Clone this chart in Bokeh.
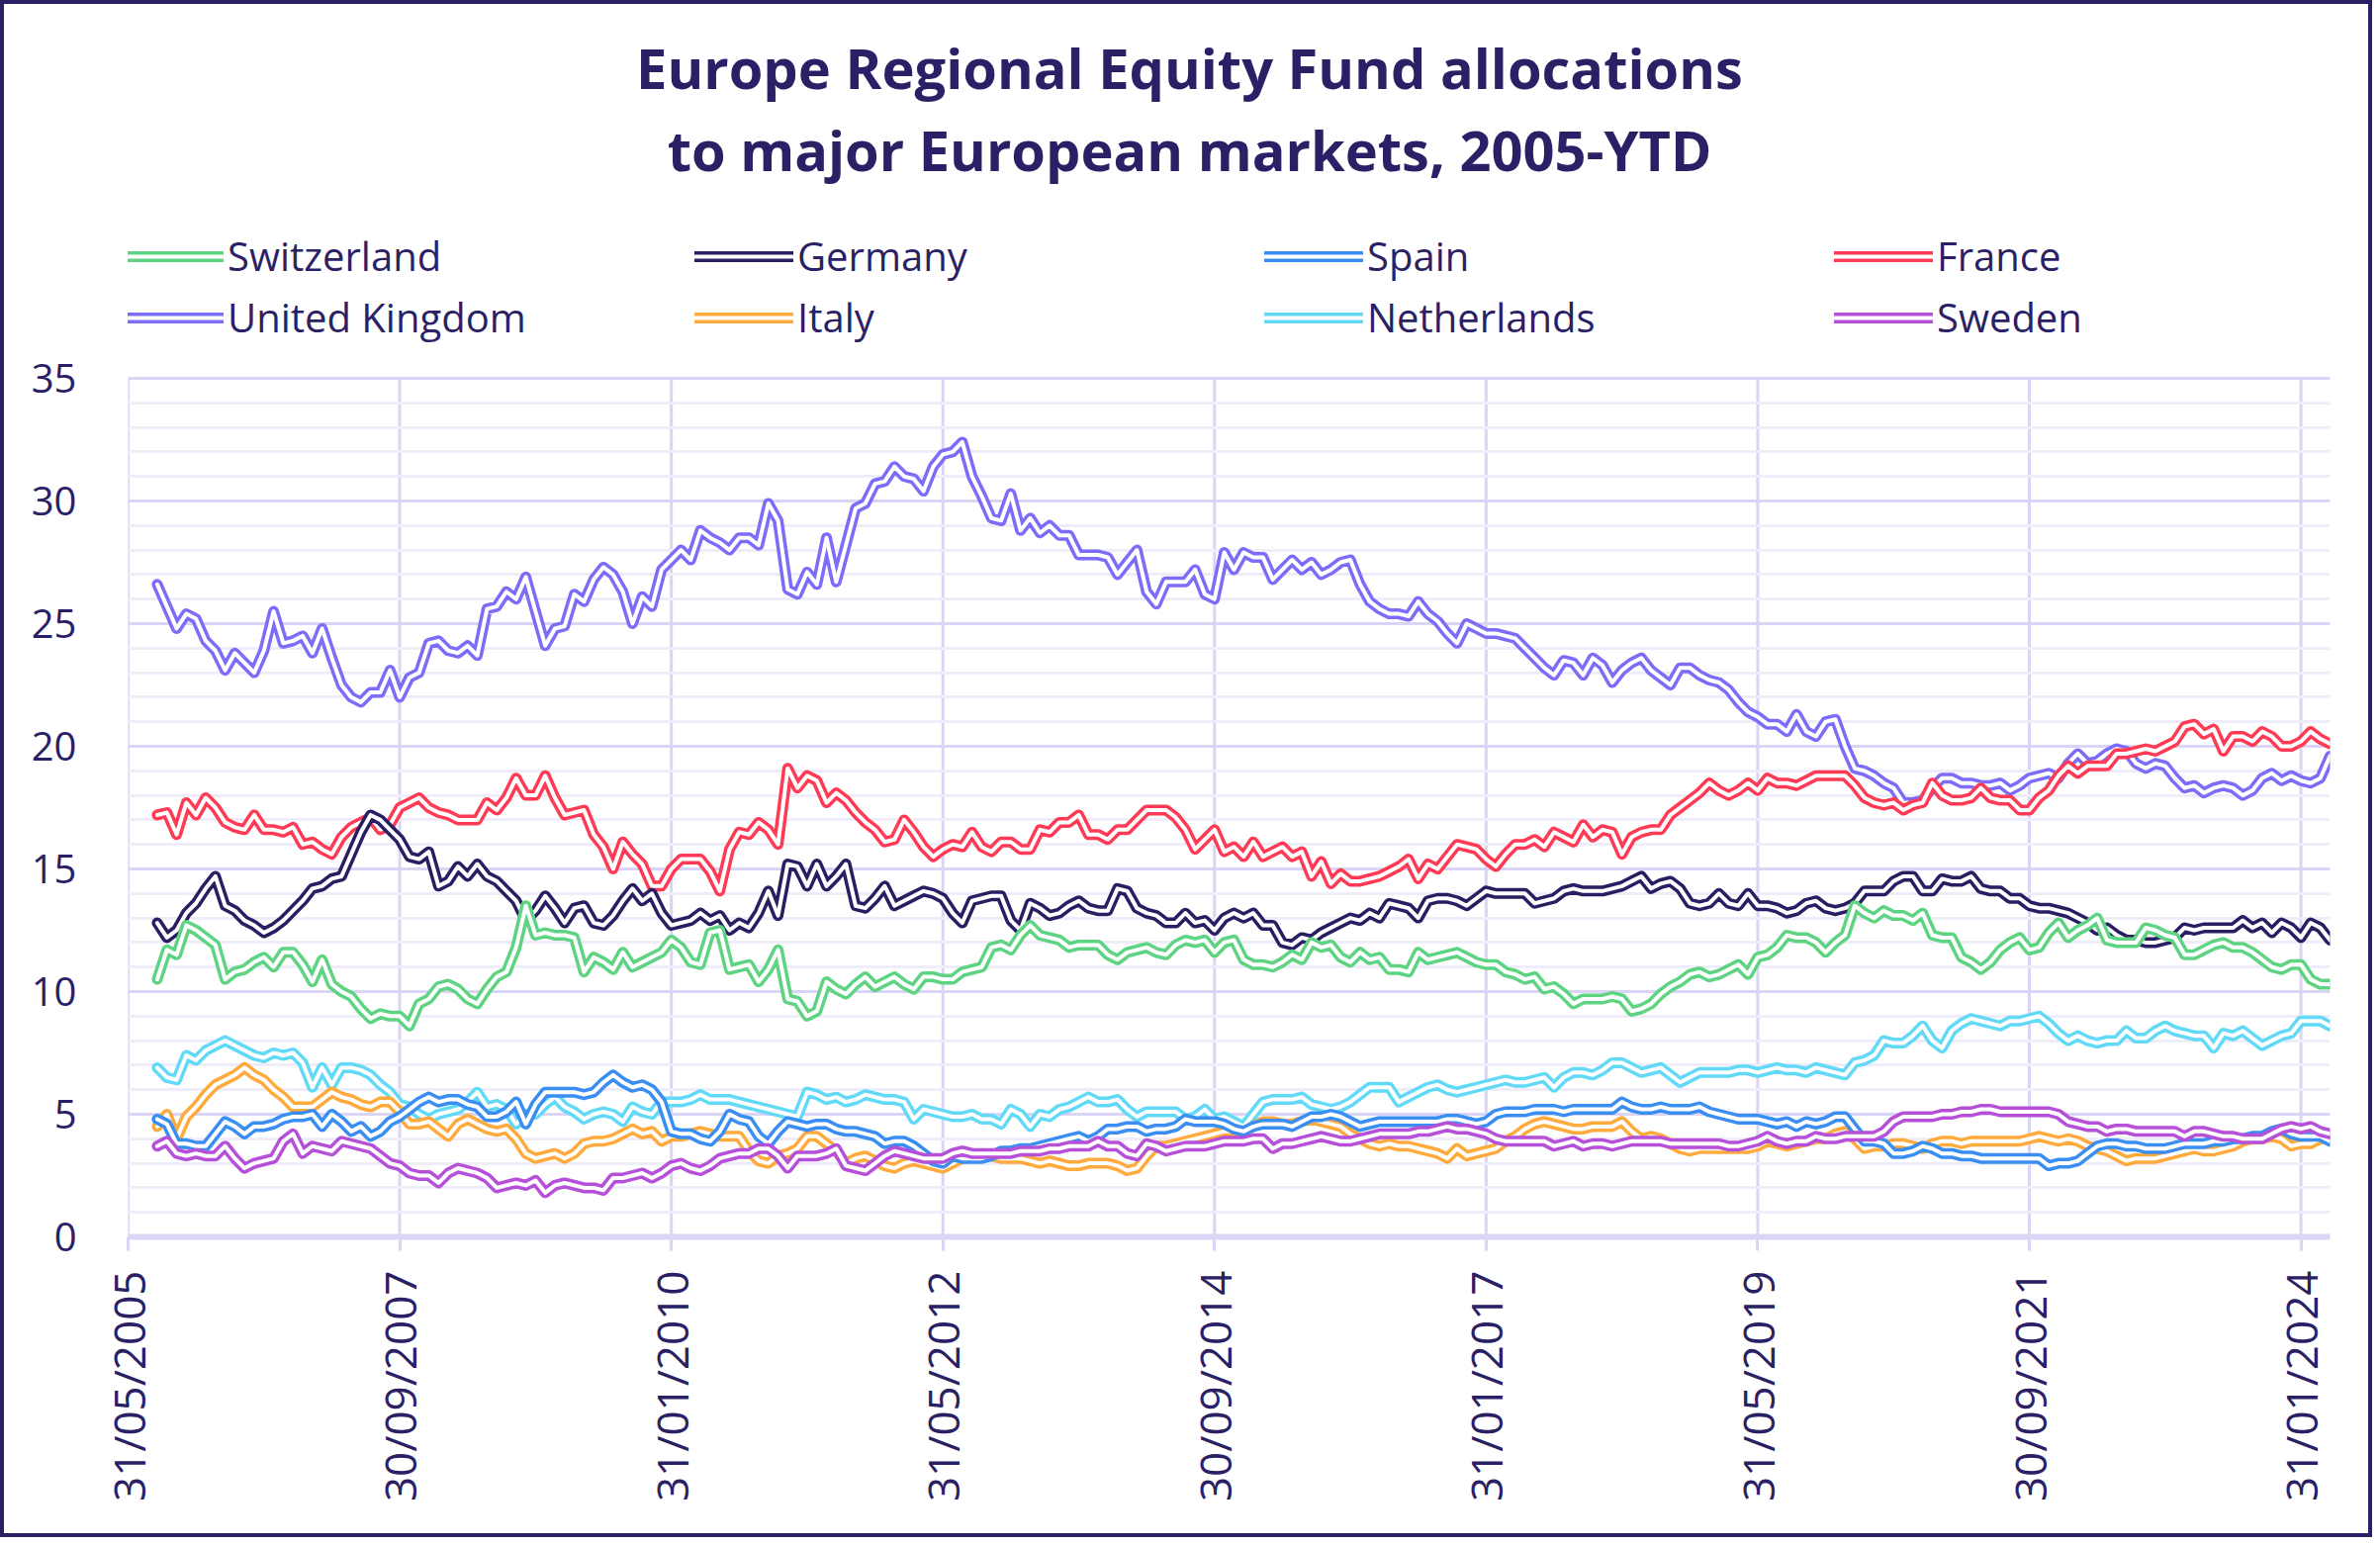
import pandas as pd
from math import pi
from bokeh.plotting import figure
from bokeh.models import Range1d, FixedTicker, Legend, LegendItem, Label
from bokeh.embed import file_html
from bokeh.resources import INLINE

# ---------------- data (monthly, first point 31/08/2005) ----------------
first_date = "2005-08-31"
axis_origin = "2005-05-31"
tick_labels = ["31/05/2005", "30/09/2007", "31/01/2010", "31/05/2012", "30/09/2014",
               "31/01/2017", "31/05/2019", "30/09/2021", "31/01/2024"]
y_ticks = [0, 5, 10, 15, 20, 25, 30, 35]

united_kingdom = [
    26.6, 25.7, 24.8, 25.4, 25.2, 24.3, 23.9, 23.1, 23.8, 23.4,
    23.0, 23.9, 25.5, 24.2, 24.3, 24.5, 23.8, 24.8, 23.6, 22.5,
    22.0, 21.8, 22.2, 22.2, 23.1, 22.0, 22.8, 23.0, 24.2, 24.3,
    23.9, 23.8, 24.1, 23.7, 25.6, 25.7, 26.3, 26.0, 26.9, 25.5,
    24.1, 24.8, 24.9, 26.2, 25.9, 26.8, 27.3, 27.0, 26.3, 25.0,
    26.1, 25.7, 27.2, 27.6, 28.0, 27.6, 28.8, 28.5, 28.3, 28.0,
    28.5, 28.5, 28.2, 29.9, 29.2, 26.4, 26.2, 27.1, 26.6, 28.5,
    26.7, 28.2, 29.7, 29.9, 30.7, 30.8, 31.4, 31.0, 30.9, 30.4,
    31.4, 31.9, 32.0, 32.4, 31.0, 30.2, 29.3, 29.2, 30.3, 28.8,
    29.3, 28.7, 29.0, 28.6, 28.6, 27.8, 27.8, 27.8, 27.7, 27.0,
    27.5, 28.0, 26.3, 25.8, 26.7, 26.7, 26.7, 27.2, 26.2, 26.0,
    27.9, 27.2, 27.9, 27.7, 27.7, 26.8, 27.2, 27.6, 27.2, 27.5,
    27.0, 27.2, 27.5, 27.6, 26.6, 25.9, 25.6, 25.4, 25.4, 25.3,
    25.9, 25.4, 25.1, 24.6, 24.2, 25.0, 24.8, 24.6, 24.6, 24.5,
    24.4, 24.0, 23.6, 23.2, 22.9, 23.5, 23.4, 22.9, 23.6, 23.3,
    22.6, 23.1, 23.4, 23.6, 23.1, 22.8, 22.5, 23.2, 23.2, 22.9,
    22.7, 22.6, 22.3, 21.8, 21.4, 21.2, 20.9, 20.9, 20.6, 21.3,
    20.6, 20.4, 21.0, 21.1, 20.0, 19.1, 19.0, 18.8, 18.5, 18.3,
    17.7, 17.7, 17.8, 18.3, 18.7, 18.7, 18.5, 18.5, 18.4, 18.4,
    18.5, 18.2, 18.4, 18.7, 18.8, 18.9, 18.7, 19.3, 19.7, 19.3,
    19.4, 19.7, 19.9, 19.8, 19.3, 19.1, 19.3, 19.2, 18.7, 18.3,
    18.4, 18.1, 18.3, 18.4, 18.3, 18.0, 18.2, 18.7, 18.9, 18.6,
    18.8, 18.6, 18.5, 18.7, 19.6]

france = [
    17.2, 17.3, 16.4, 17.7, 17.2, 17.9, 17.5, 16.9, 16.7, 16.6,
    17.2, 16.6, 16.6, 16.5, 16.7, 16.0, 16.1, 15.8, 15.6, 16.3,
    16.7, 16.9, 17.1, 16.6, 16.8, 17.5, 17.7, 17.9, 17.5, 17.3,
    17.2, 17.0, 17.0, 17.0, 17.7, 17.4, 17.9, 18.7, 18.0, 18.0,
    18.8, 17.9, 17.2, 17.3, 17.4, 16.4, 15.9, 15.0, 16.1, 15.6,
    15.2, 14.3, 14.3, 15.0, 15.4, 15.4, 15.4, 14.9, 14.1, 15.8,
    16.5, 16.4, 16.9, 16.6, 16.0, 19.1, 18.3, 18.8, 18.6, 17.7,
    18.1, 17.8, 17.3, 16.9, 16.6, 16.1, 16.2, 17.0, 16.5, 15.9,
    15.5, 15.8, 16.0, 15.9, 16.5, 15.9, 15.7, 16.1, 16.1, 15.8,
    15.8, 16.6, 16.5, 16.9, 16.9, 17.2, 16.4, 16.4, 16.2, 16.6,
    16.6, 17.0, 17.4, 17.4, 17.4, 17.1, 16.6, 15.8, 16.2, 16.6,
    15.7, 15.9, 15.5, 16.1, 15.5, 15.7, 15.9, 15.5, 15.7, 14.7,
    15.3, 14.4, 14.8, 14.5, 14.5, 14.6, 14.7, 14.9, 15.1, 15.4,
    14.6, 15.2, 15.0, 15.5, 16.0, 15.9, 15.8, 15.4, 15.1, 15.6,
    16.0, 16.0, 16.2, 15.9, 16.5, 16.3, 16.1, 16.8, 16.3, 16.6,
    16.5, 15.6, 16.3, 16.5, 16.6, 16.6, 17.2, 17.5, 17.8, 18.1,
    18.5, 18.2, 18.0, 18.2, 18.5, 18.2, 18.7, 18.5, 18.5, 18.4,
    18.6, 18.8, 18.8, 18.8, 18.8, 18.4, 17.9, 17.7, 17.6, 17.7,
    17.4, 17.6, 17.7, 18.5, 18.0, 17.8, 17.8, 17.9, 18.3, 17.9,
    17.8, 17.8, 17.4, 17.4, 17.9, 18.2, 18.8, 19.2, 18.9, 19.2,
    19.2, 19.2, 19.7, 19.7, 19.8, 19.9, 19.8, 20.0, 20.2, 20.8,
    20.9, 20.5, 20.7, 19.8, 20.4, 20.4, 20.2, 20.6, 20.4, 20.0,
    20.0, 20.2, 20.6, 20.3, 20.1]

germany = [
    12.8, 12.2, 12.5, 13.2, 13.6, 14.2, 14.7, 13.5, 13.3, 12.9,
    12.7, 12.4, 12.6, 12.9, 13.3, 13.7, 14.2, 14.3, 14.6, 14.7,
    15.6, 16.5, 17.2, 17.0, 16.6, 16.2, 15.5, 15.4, 15.7, 14.3,
    14.5, 15.1, 14.7, 15.2, 14.7, 14.5, 14.1, 13.7, 12.9, 13.3,
    13.9, 13.4, 12.8, 13.4, 13.5, 12.8, 12.7, 13.1, 13.7, 14.2,
    13.7, 14.0, 13.2, 12.7, 12.8, 12.9, 13.2, 12.9, 13.1, 12.5,
    12.8, 12.6, 13.2, 14.1, 13.1, 15.2, 15.1, 14.3, 15.2, 14.3,
    14.7, 15.2, 13.5, 13.4, 13.8, 14.3, 13.5, 13.7, 13.9, 14.1,
    14.0, 13.8, 13.2, 12.8, 13.7, 13.8, 13.9, 13.9, 12.9, 12.5,
    13.6, 13.4, 13.1, 13.2, 13.5, 13.7, 13.4, 13.3, 13.3, 14.2,
    14.1, 13.4, 13.2, 13.1, 12.8, 12.8, 13.2, 12.8, 12.9, 12.5,
    13.0, 13.2, 13.0, 13.2, 12.7, 12.7, 12.0, 11.9, 12.2, 12.1,
    12.4, 12.6, 12.8, 13.0, 12.9, 13.2, 13.0, 13.6, 13.5, 13.4,
    13.0, 13.7, 13.8, 13.8, 13.7, 13.5, 13.8, 14.1, 14.0, 14.0,
    14.0, 14.0, 13.6, 13.7, 13.8, 14.1, 14.2, 14.1, 14.1, 14.1,
    14.2, 14.3, 14.5, 14.7, 14.2, 14.4, 14.5, 14.2, 13.6, 13.5,
    13.6, 14.0, 13.6, 13.5, 14.0, 13.5, 13.5, 13.4, 13.2, 13.3,
    13.6, 13.7, 13.4, 13.3, 13.4, 13.6, 14.1, 14.1, 14.1, 14.5,
    14.7, 14.7, 14.1, 14.1, 14.6, 14.5, 14.5, 14.7, 14.2, 14.1,
    14.1, 13.8, 13.8, 13.5, 13.4, 13.4, 13.3, 13.2, 13.0, 12.8,
    12.5, 12.6, 12.3, 12.1, 12.1, 12.0, 12.0, 12.1, 12.2, 12.6,
    12.5, 12.6, 12.6, 12.6, 12.6, 12.9, 12.6, 12.8, 12.4, 12.8,
    12.6, 12.2, 12.8, 12.6, 12.1]

switzerland = [
    10.5, 11.7, 11.5, 12.7, 12.5, 12.2, 11.9, 10.5, 10.8, 10.9,
    11.2, 11.4, 11.0, 11.6, 11.6, 11.1, 10.4, 11.3, 10.3, 10.0,
    9.8, 9.3, 8.9, 9.1, 9.0, 9.0, 8.6, 9.5, 9.7, 10.2,
    10.3, 10.1, 9.7, 9.5, 10.1, 10.6, 10.8, 11.8, 13.5, 12.3,
    12.4, 12.3, 12.3, 12.2, 10.8, 11.4, 11.2, 10.9, 11.6, 11.0,
    11.2, 11.4, 11.6, 12.1, 11.8, 11.2, 11.1, 12.4, 12.5, 10.9,
    11.0, 11.1, 10.4, 10.9, 11.7, 9.7, 9.6, 9.0, 9.2, 10.4,
    10.1, 9.9, 10.3, 10.6, 10.2, 10.4, 10.6, 10.3, 10.1, 10.6,
    10.6, 10.5, 10.5, 10.8, 10.9, 11.0, 11.8, 11.9, 11.7, 12.3,
    12.7, 12.3, 12.2, 12.1, 11.8, 11.9, 11.9, 11.9, 11.5, 11.3,
    11.6, 11.7, 11.8, 11.6, 11.5, 11.9, 12.1, 12.0, 12.1, 11.6,
    12.0, 12.1, 11.3, 11.1, 11.1, 11.0, 11.2, 11.5, 11.3, 12.0,
    11.8, 11.9, 11.4, 11.2, 11.6, 11.3, 11.4, 10.9, 10.9, 10.8,
    11.6, 11.3, 11.4, 11.5, 11.6, 11.4, 11.2, 11.1, 11.1, 10.8,
    10.7, 10.5, 10.6, 10.1, 10.2, 9.9, 9.5, 9.7, 9.7, 9.7,
    9.8, 9.7, 9.2, 9.3, 9.5, 9.9, 10.2, 10.4, 10.7, 10.8,
    10.6, 10.7, 10.9, 11.1, 10.7, 11.4, 11.5, 11.8, 12.3, 12.2,
    12.2, 12.0, 11.6, 12.0, 12.3, 13.5, 13.2, 13.0, 13.3, 13.1,
    13.1, 12.9, 13.2, 12.3, 12.2, 12.2, 11.4, 11.2, 10.9, 11.2,
    11.7, 12.0, 12.2, 11.7, 11.8, 12.4, 12.8, 12.2, 12.5, 12.7,
    13.0, 12.1, 12.0, 12.0, 12.0, 12.6, 12.5, 12.3, 12.2, 11.5,
    11.5, 11.7, 11.9, 12.0, 11.8, 11.8, 11.6, 11.3, 11.0, 10.9,
    11.1, 11.1, 10.5, 10.3, 10.3]

netherlands = [
    6.9, 6.5, 6.4, 7.4, 7.2, 7.6, 7.8, 8.0, 7.8, 7.6,
    7.4, 7.3, 7.5, 7.4, 7.5, 7.1, 6.1, 6.9, 6.2, 6.9,
    6.9, 6.8, 6.6, 6.2, 5.9, 5.4, 5.3, 5.0, 4.8, 5.0,
    5.1, 5.2, 5.5, 5.9, 5.3, 5.4, 5.2, 4.6, 5.0, 5.0,
    5.4, 5.7, 5.3, 5.1, 4.8, 5.0, 5.1, 5.0, 4.7, 5.3,
    5.1, 5.0, 5.5, 5.5, 5.5, 5.6, 5.8, 5.6, 5.6, 5.6,
    5.5, 5.4, 5.3, 5.2, 5.1, 5.0, 4.9, 5.9, 5.8, 5.6,
    5.7, 5.5, 5.6, 5.8, 5.7, 5.6, 5.6, 5.5, 4.8, 5.2,
    5.1, 5.0, 4.9, 4.9, 5.0, 4.8, 4.8, 4.6, 5.2, 5.0,
    4.5, 5.0, 4.9, 5.2, 5.3, 5.5, 5.7, 5.5, 5.5, 5.6,
    5.2, 4.9, 5.1, 5.1, 5.1, 5.1, 4.8, 4.9, 5.2, 4.8,
    4.9, 4.7, 4.5, 5.0, 5.5, 5.6, 5.6, 5.6, 5.7, 5.4,
    5.3, 5.2, 5.3, 5.5, 5.8, 6.1, 6.1, 6.1, 5.5, 5.7,
    5.9, 6.1, 6.2, 6.0, 5.9, 6.0, 6.1, 6.2, 6.3, 6.4,
    6.3, 6.3, 6.4, 6.5, 6.1, 6.5, 6.7, 6.7, 6.6, 6.8,
    7.1, 7.1, 6.9, 6.7, 6.8, 6.9, 6.6, 6.3, 6.5, 6.7,
    6.7, 6.7, 6.7, 6.8, 6.8, 6.7, 6.8, 6.9, 6.8, 6.8,
    6.7, 6.9, 6.8, 6.7, 6.6, 7.1, 7.2, 7.4, 8.0, 7.9,
    7.9, 8.2, 8.6, 8.0, 7.7, 8.4, 8.7, 8.9, 8.8, 8.7,
    8.6, 8.8, 8.8, 8.9, 9.0, 8.7, 8.3, 8.0, 8.2, 8.0,
    7.9, 8.0, 8.0, 8.4, 8.1, 8.1, 8.4, 8.6, 8.4, 8.3,
    8.2, 8.2, 7.7, 8.3, 8.2, 8.4, 8.1, 7.8, 8.0, 8.2,
    8.3, 8.8, 8.8, 8.8, 8.6]

spain = [
    4.8, 4.6, 3.8, 3.8, 3.7, 3.7, 4.2, 4.7, 4.5, 4.2,
    4.5, 4.5, 4.6, 4.8, 4.9, 4.9, 5.0, 4.5, 5.0, 4.7,
    4.3, 4.5, 4.1, 4.3, 4.7, 4.9, 5.2, 5.5, 5.7, 5.5,
    5.6, 5.6, 5.4, 5.3, 4.9, 4.9, 5.1, 5.5, 4.6, 5.4,
    5.9, 5.9, 5.9, 5.9, 5.8, 5.9, 6.3, 6.6, 6.3, 6.1,
    6.2, 6.0, 5.5, 4.3, 4.2, 4.2, 4.0, 3.9, 4.3, 5.0,
    4.8, 4.7, 4.1, 3.8, 4.3, 4.7, 4.6, 4.5, 4.6, 4.6,
    4.4, 4.3, 4.3, 4.2, 4.1, 3.8, 3.9, 3.9, 3.7, 3.4,
    3.1, 3.0, 3.3, 3.2, 3.2, 3.2, 3.3, 3.5, 3.5, 3.6,
    3.6, 3.7, 3.8, 3.9, 4.0, 4.1, 3.9, 4.1, 4.4, 4.4,
    4.5, 4.5, 4.3, 4.4, 4.4, 4.5, 4.8, 4.7, 4.7, 4.7,
    4.6, 4.4, 4.3, 4.5, 4.6, 4.6, 4.6, 4.5, 4.7, 4.9,
    4.9, 5.0, 4.9, 4.7, 4.5, 4.6, 4.7, 4.7, 4.7, 4.7,
    4.7, 4.7, 4.7, 4.8, 4.8, 4.7, 4.6, 4.7, 5.0, 5.1,
    5.1, 5.1, 5.2, 5.2, 5.2, 5.1, 5.2, 5.2, 5.2, 5.2,
    5.2, 5.5, 5.3, 5.2, 5.2, 5.3, 5.2, 5.2, 5.2, 5.3,
    5.1, 5.0, 4.9, 4.8, 4.8, 4.8, 4.7, 4.6, 4.7, 4.5,
    4.7, 4.6, 4.7, 4.9, 4.9, 4.4, 3.9, 3.9, 3.8, 3.4,
    3.4, 3.5, 3.7, 3.6, 3.4, 3.4, 3.3, 3.3, 3.2, 3.2,
    3.2, 3.2, 3.2, 3.2, 3.2, 2.9, 3.0, 3.0, 3.1, 3.4,
    3.7, 3.8, 3.8, 3.7, 3.7, 3.6, 3.6, 3.6, 3.7, 3.8,
    3.8, 3.8, 3.9, 3.9, 4.0, 4.0, 4.1, 4.1, 4.3, 4.4,
    4.2, 4.1, 4.1, 4.1, 3.9]

italy = [
    4.5, 5.0, 4.0, 4.9, 5.3, 5.8, 6.2, 6.4, 6.6, 6.9,
    6.6, 6.4, 6.0, 5.7, 5.3, 5.3, 5.3, 5.6, 5.9, 5.7,
    5.6, 5.4, 5.3, 5.5, 5.5, 5.1, 4.6, 4.6, 4.7, 4.4,
    4.1, 4.6, 4.8, 4.6, 4.4, 4.3, 4.4, 4.0, 3.4, 3.2,
    3.3, 3.4, 3.2, 3.4, 3.8, 3.9, 3.9, 4.0, 4.2, 4.4,
    4.2, 4.3, 3.9, 4.1, 4.1, 4.2, 4.3, 4.2, 4.1, 4.1,
    4.1, 3.5, 3.1, 3.0, 3.3, 3.4, 3.6, 4.1, 4.1, 3.8,
    3.5, 3.0, 3.2, 3.3, 3.1, 2.9, 2.8, 3.0, 3.1, 3.0,
    2.9, 2.8, 3.0, 3.2, 3.3, 3.4, 3.3, 3.2, 3.2, 3.2,
    3.1, 3.0, 3.1, 3.0, 2.9, 2.9, 3.0, 3.0, 3.0, 2.9,
    2.7, 2.8, 3.3, 3.7, 3.7, 3.8, 3.9, 4.0, 4.1, 4.2,
    4.3, 4.3, 4.3, 4.5, 4.7, 4.7, 4.6, 4.6, 4.7, 4.8,
    4.7, 4.6, 4.5, 4.2, 4.0, 3.8, 3.7, 3.8, 3.7, 3.7,
    3.6, 3.5, 3.4, 3.2, 3.6, 3.3, 3.4, 3.5, 3.6, 3.9,
    4.1, 4.4, 4.6, 4.7, 4.6, 4.5, 4.4, 4.4, 4.5, 4.5,
    4.5, 4.7, 4.3, 4.0, 4.1, 4.0, 3.8, 3.6, 3.5, 3.6,
    3.6, 3.6, 3.6, 3.6, 3.6, 3.7, 3.9, 3.8, 3.7, 3.8,
    3.9, 4.0, 4.0, 4.2, 4.3, 4.0, 3.6, 3.7, 3.7, 3.8,
    3.8, 3.7, 3.6, 3.8, 3.9, 3.9, 3.8, 3.9, 3.9, 3.9,
    3.9, 3.9, 3.9, 4.0, 4.1, 4.0, 3.9, 4.0, 3.9, 3.7,
    3.6, 3.5, 3.3, 3.1, 3.2, 3.2, 3.2, 3.3, 3.4, 3.5,
    3.6, 3.5, 3.5, 3.6, 3.7, 3.9, 4.0, 4.0, 4.1, 4.0,
    3.7, 3.8, 3.8, 4.0, 4.1]

sweden = [
    3.7, 3.9, 3.4, 3.3, 3.4, 3.3, 3.3, 3.7, 3.2, 2.8,
    3.0, 3.1, 3.2, 3.9, 4.2, 3.4, 3.7, 3.6, 3.5, 3.9,
    3.8, 3.7, 3.6, 3.3, 3.0, 2.9, 2.6, 2.5, 2.5, 2.2,
    2.6, 2.8, 2.7, 2.6, 2.4, 2.0, 2.1, 2.2, 2.1, 2.3,
    1.8, 2.1, 2.2, 2.1, 2.0, 2.0, 1.9, 2.4, 2.4, 2.5,
    2.6, 2.4, 2.6, 2.9, 3.0, 2.8, 2.7, 2.9, 3.2, 3.3,
    3.4, 3.4, 3.6, 3.6, 3.3, 2.8, 3.3, 3.3, 3.3, 3.4,
    3.6, 2.9, 2.8, 2.7, 3.0, 3.3, 3.5, 3.4, 3.3, 3.2,
    3.2, 3.2, 3.4, 3.5, 3.4, 3.4, 3.4, 3.4, 3.4, 3.5,
    3.5, 3.5, 3.6, 3.6, 3.7, 3.7, 3.7, 3.9, 3.7, 3.7,
    3.4, 3.3, 3.8, 3.7, 3.5, 3.6, 3.7, 3.7, 3.7, 3.8,
    3.9, 3.9, 3.9, 4.0, 4.0, 3.6, 3.8, 3.8, 3.9, 4.0,
    4.1, 4.0, 3.9, 3.9, 4.0, 4.1, 4.2, 4.2, 4.2, 4.2,
    4.3, 4.3, 4.4, 4.5, 4.4, 4.4, 4.3, 4.2, 4.0, 3.9,
    3.9, 3.9, 3.9, 3.9, 3.7, 3.8, 3.9, 3.7, 3.8, 3.8,
    3.7, 3.8, 3.9, 3.9, 3.9, 3.9, 3.8, 3.8, 3.8, 3.8,
    3.8, 3.8, 3.7, 3.7, 3.8, 3.9, 4.1, 3.9, 3.8, 3.9,
    3.9, 4.1, 4.0, 4.0, 4.1, 4.1, 4.1, 4.1, 4.3, 4.7,
    4.9, 4.9, 4.9, 4.9, 5.0, 5.0, 5.1, 5.1, 5.2, 5.2,
    5.1, 5.1, 5.1, 5.1, 5.1, 5.1, 5.0, 4.7, 4.6, 4.5,
    4.5, 4.3, 4.4, 4.4, 4.3, 4.3, 4.3, 4.3, 4.3, 4.1,
    4.3, 4.3, 4.2, 4.1, 4.1, 4.0, 4.0, 4.0, 4.2, 4.4,
    4.5, 4.4, 4.5, 4.3, 4.2]

series = {
    "Switzerland": switzerland, "Germany": germany, "Spain": spain, "France": france,
    "United Kingdom": united_kingdom, "Italy": italy, "Netherlands": netherlands, "Sweden": sweden,
}
colors = {
    "Switzerland": "#5ED483", "Germany": "#2A1E63", "Spain": "#3A8EF2", "France": "#FF3A55",
    "United Kingdom": "#7C6CF7", "Italy": "#FFAA3C", "Netherlands": "#62D9F7", "Sweden": "#B650D8",
}
legend_order = ["Switzerland", "Germany", "Spain", "France",
                "United Kingdom", "Italy", "Netherlands", "Sweden"]
draw_order = ["United Kingdom", "France", "Germany", "Switzerland",
              "Netherlands", "Italy", "Spain", "Sweden"]
title_lines = ["Europe Regional Equity Fund allocations", "to major European markets, 2005-YTD"]

# ---------------- helpers ----------------
origin = pd.Timestamp(axis_origin)


def month_offset(ts):
    return (ts.year - origin.year) * 12 + (ts.month - origin.month)


n_max = max(len(v) for v in series.values())
dates = pd.date_range(first_date, periods=n_max, freq="ME")
month_idx = [month_offset(d) for d in dates]
tick_pos = [month_offset(pd.to_datetime(t, format="%d/%m/%Y")) for t in tick_labels]

NAVY = "#2B1F66"
GRID = "#DAD5F4"
MINOR = "#EFEDFA"
FONT = "Open Sans"

# layout (pixels inside the bordered canvas)
W, H = 2398, 1554
FRAME_BOTTOM = 1246          # canvas y of value 0
AXIS_PX = 868                # pixels spanned by 0..35
y_top = max(y_ticks) * FRAME_BOTTOM / AXIS_PX   # frame reaches the top of the canvas

p = figure(width=W, height=H, output_backend="svg", toolbar_location=None,
           x_range=Range1d(0, month_idx[len(united_kingdom) - 1]), y_range=Range1d(0, y_top),
           min_border_left=125, min_border_right=47, min_border_top=0,
           min_border_bottom=H - FRAME_BOTTOM)
p.styles = {"border": f"4px solid {NAVY}"}
p.outline_line_color = None
p.background_fill_color = "white"
p.border_fill_color = "white"

# horizontal grid (major every 5, minor every 1)
minor = [v for v in range(0, max(y_ticks) + 1) if v % 5 != 0]
p.yaxis.ticker = FixedTicker(ticks=y_ticks, minor_ticks=minor)
p.ygrid.ticker = FixedTicker(ticks=y_ticks, minor_ticks=minor)
p.ygrid.grid_line_color = GRID
p.ygrid.grid_line_width = 3
p.ygrid.minor_grid_line_color = MINOR
p.ygrid.minor_grid_line_width = 3

# vertical grid lines only over the value area
p.xaxis.ticker = FixedTicker(ticks=tick_pos)
p.xgrid.grid_line_color = None
p.segment(x0=tick_pos, y0=[0] * len(tick_pos), x1=tick_pos, y1=[max(y_ticks)] * len(tick_pos),
          line_color=GRID, line_width=3, level="underlay")

# axes
p.xaxis.major_label_overrides = {tp: lab for tp, lab in zip(tick_pos, tick_labels)}
p.xaxis.major_label_orientation = pi / 2
p.xaxis.axis_line_color = GRID
p.xaxis.axis_line_width = 6
p.xaxis.major_tick_line_color = GRID
p.xaxis.major_tick_line_width = 3
p.xaxis.major_tick_out = 14
p.xaxis.major_tick_in = 0
p.xaxis.minor_tick_line_color = None
p.xaxis.major_label_standoff = 20
p.xaxis.major_label_text_font = FONT
p.xaxis.major_label_text_font_size = "44px"
p.xaxis.major_label_text_color = NAVY

p.yaxis.axis_line_color = None
p.yaxis.major_tick_line_color = None
p.yaxis.minor_tick_line_color = None
p.yaxis.major_tick_out = 0
p.yaxis.major_label_standoff = 48
p.yaxis.major_label_text_font = FONT
p.yaxis.major_label_text_font_size = "40px"
p.yaxis.major_label_text_color = NAVY

# lines (coloured band with a white core)
rend = {}
for name in draw_order:
    vals = series[name]
    xs = month_idx[:len(vals)]
    rc = p.line(xs, vals, line_color=colors[name], line_width=11,
                line_cap="round", line_join="round")
    rw = p.line(xs, vals, line_color="white", line_width=4,
                line_cap="round", line_join="round")
    rend[name] = [rc, rw]

legend = Legend(
    items=[LegendItem(label=n, renderers=rend[n]) for n in legend_order],
    orientation="horizontal", ncols=4, location=(-3, 902),
    glyph_width=100, glyph_height=46, label_standoff=4, label_width=465, label_height=46,
    spacing=7, padding=0, margin=0, border_line_color=None, background_fill_alpha=0,
    label_text_font=FONT, label_text_font_size="40px", label_text_color=NAVY,
)
p.add_layout(legend, "center")

for i, t in enumerate(title_lines):
    p.add_layout(Label(x=1073, y=1183 - 83 * i, x_units="screen", y_units="screen", text=t,
                       text_align="center", text_baseline="middle", text_font=FONT,
                       text_font_size="56px", text_font_style="bold", text_color=NAVY))

open("out.html", "w").write(file_html(p, INLINE))
